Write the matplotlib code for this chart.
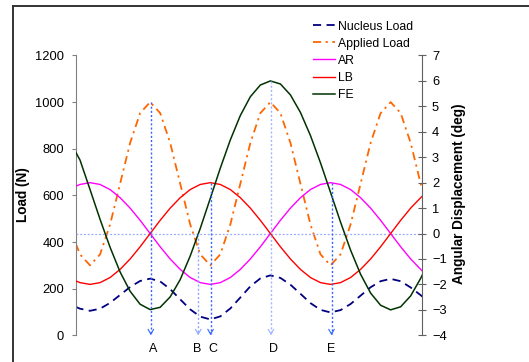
import matplotlib.pyplot as plt
from matplotlib.lines import Line2D

plt.rcParams['font.family'] = ['Liberation Sans', 'DejaVu Sans']

# sample positions along the cycle (hidden x axis), edges included
x = [-1.43] + list(range(-1, 34)) + [33.16]

# loads (N), left axis
nucleus_load = [122, 114, 105, 114, 139, 173, 207, 233, 243, 231, 198, 154, 111, 80, 68,
                81, 115, 162, 210, 244, 257, 246, 217, 178, 138, 109, 98, 108, 134, 170,
                206, 232, 242, 232, 205, 172, 166]
applied_load = [394, 347, 300, 347, 475, 650, 825, 953, 1000, 953, 825, 650, 475, 347, 300,
                347, 475, 650, 825, 953, 1000, 953, 825, 650, 475, 347, 300, 347, 475, 650,
                825, 953, 1000, 953, 825, 650, 625]

# angular displacement (deg), right axis
ar = [1.86, 1.93, 2.00, 1.93, 1.73, 1.41, 1.00, 0.52, 0.00, -0.52, -1.00, -1.41, -1.73, -1.93,
      -2.00, -1.93, -1.73, -1.41, -1.00, -0.52, 0.00, 0.52, 1.00, 1.41, 1.73, 1.93, 2.00, 1.93,
      1.73, 1.41, 1.00, 0.52, 0.00, -0.52, -1.00, -1.41, -1.47]
lb = [-1.86, -1.93, -2.00, -1.93, -1.73, -1.41, -1.00, -0.52, 0.00, 0.52, 1.00, 1.41, 1.73, 1.93,
      2.00, 1.93, 1.73, 1.41, 1.00, 0.52, 0.00, -0.52, -1.00, -1.41, -1.73, -1.93, -2.00, -1.93,
      -1.73, -1.41, -1.00, -0.52, 0.00, 0.52, 1.00, 1.41, 1.47]
fe = [3.20, 2.89, 1.73, 0.56, -0.54, -1.51, -2.27, -2.78, -2.99, -2.90, -2.49, -1.81, -0.88, 0.20,
      1.38, 2.57, 3.68, 4.64, 5.38, 5.84, 6.00, 5.88, 5.45, 4.76, 3.85, 2.78, 1.62, 0.45, -0.65,
      -1.60, -2.34, -2.82, -3.00, -2.88, -2.45, -1.76, -1.63]

# event markers
marker_names = ['A', 'B', 'C', 'D', 'E']
marker_x = [6.07, 10.8, 12.03, 18.06, 24.1]
marker_label_x = [6.29, 10.74, 12.28, 18.29, 24.04]
marker_top = [1000, 0, 2, 6, 2]
marker_on_load = [True, False, False, False, False]
marker_colors = ['#3366ff', '#8fa8ff', '#3366ff', '#a0b4ff', '#3366ff']

fig = plt.figure(figsize=(5.29, 3.62), dpi=100)
ax = fig.add_axes([0.1431, 0.0738, 0.6552, 0.7729])
ax2 = ax.twinx()

l1, = ax.plot(x, nucleus_load, color='#000080', lw=1.3, ls=(0, (4.5, 3)), label='Nucleus Load')
l2, = ax.plot(x, applied_load, color='#ff6600', lw=1.3, ls=(0, (4.5, 2.5, 1.2, 2.5)),
              label='Applied Load')
l3, = ax2.plot(x, ar, color='#ff00ff', lw=1.0, label='AR')
l4, = ax2.plot(x, lb, color='#ff0000', lw=1.0, label='LB')
l5, = ax2.plot(x, fe, color='#003300', lw=1.1, label='FE')

ax2.axhline(0, color='#99aaff', lw=0.9, ls=(0, (1.5, 1.5)), zorder=1)

for name, mx, lx, top, on_load, c in zip(marker_names, marker_x, marker_label_x,
                                         marker_top, marker_on_load, marker_colors):
    top_deg = top / 1200 * 11 - 4 if on_load else top
    ax2.plot([mx, mx], [top_deg, -3.95], color=c, lw=1.0, ls=(0, (1.5, 1.5)))
    ax2.annotate('', xy=(mx, -4), xytext=(mx, -3.9),
                 arrowprops=dict(arrowstyle='->,head_length=0.35,head_width=0.2',
                                 color=c, lw=0.8, shrinkA=0, shrinkB=0))
    ax2.text(lx, -0.049, name, transform=ax2.get_xaxis_transform(),
             ha='center', va='center', fontsize=9)

ax.set_xlim(-1.43, 33.16)
ax.set_ylim(0, 1200)
ax.set_yticks(range(0, 1201, 200))
ax2.set_ylim(-4, 7)
ax2.set_yticks(range(-4, 8))
ax.set_xticks([])

for a in (ax, ax2):
    a.spines['top'].set_visible(False)
    a.spines['bottom'].set_visible(False)
    a.patch.set_visible(False)
ax2.spines['left'].set_visible(False)
ax.spines['right'].set_visible(False)
ax.spines['left'].set_color('#808080')
ax2.spines['right'].set_color('#606060')

ax.tick_params(axis='y', direction='out', length=2.9, width=0.8, color='#808080',
               pad=5.5, labelsize=9.3)
ax2.tick_params(axis='y', direction='inout', length=5.8, width=0.8, color='#606060',
                pad=4.1, labelsize=9.3)

fig.text(0.0440, 0.4635, 'Load (N)', rotation=90, ha='center', va='center',
         fontsize=9.8, fontweight='bold')
fig.text(0.8677, 0.4649, 'Angular Displacement (deg)', rotation=90, ha='center',
         va='center', fontsize=9.8, fontweight='bold')

fig.legend([l1, l2, l3, l4, l5], ['Nucleus Load', 'Applied Load', 'AR', 'LB', 'FE'],
           loc='upper left', bbox_to_anchor=(313.3 / 529, 1 - 20.5 / 362), frameon=False,
           fontsize=8.8, handlelength=1.8, handletextpad=0.25, labelspacing=0.42,
           borderpad=0, borderaxespad=0)

# outer frame of the figure box
fig.add_artist(Line2D([0.0242, 0.0242], [-0.05, 0.9831], color='#333333', lw=1.4))
fig.add_artist(Line2D([0.0242, 1.05], [0.9831, 0.9831], color='#333333', lw=1.4))

fig.savefig('out.png', dpi=100)
